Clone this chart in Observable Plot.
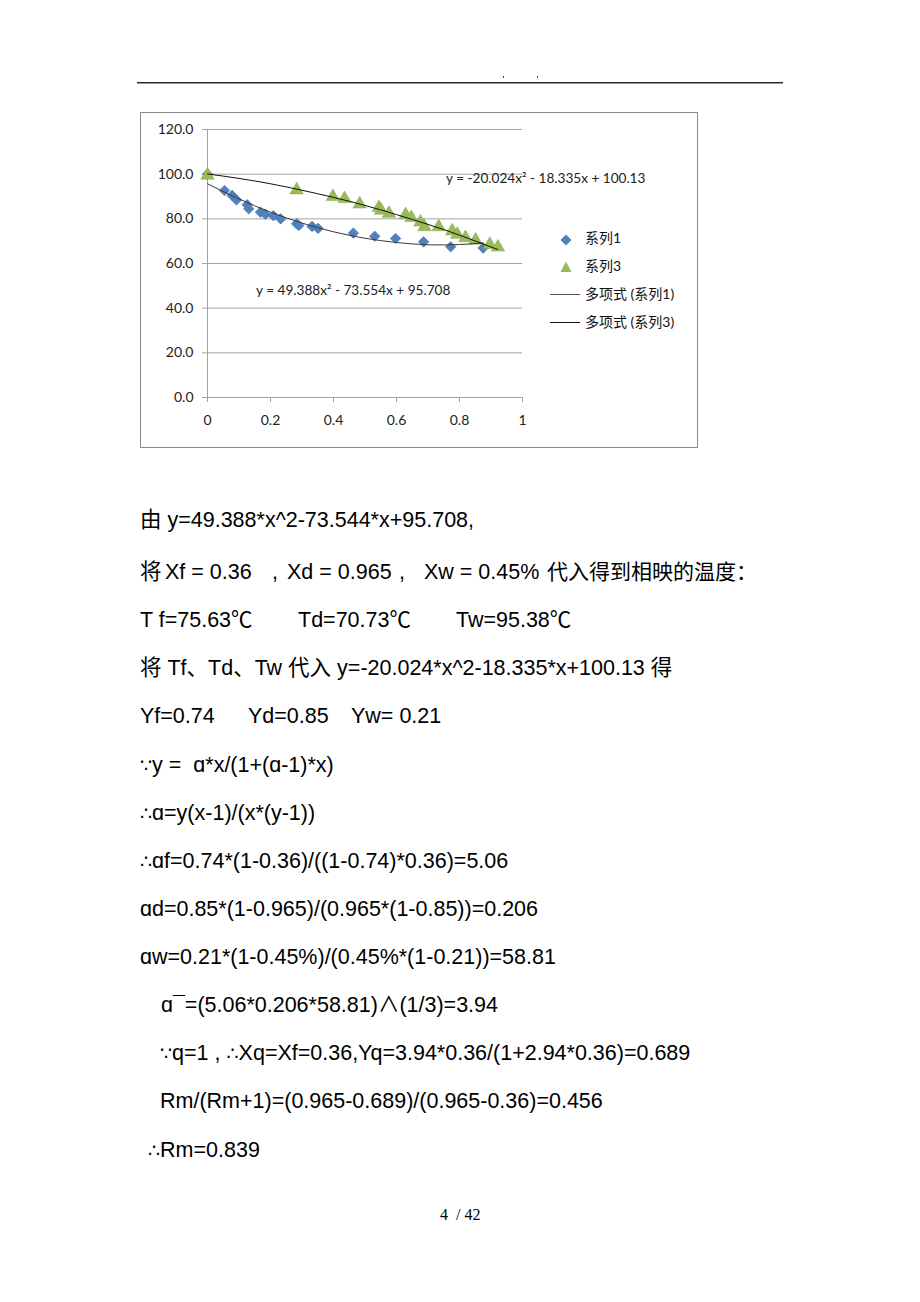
<!DOCTYPE html>
<html><head><meta charset="utf-8">
<script src="https://cdn.jsdelivr.net/npm/d3@7"></script>
<script src="https://cdn.jsdelivr.net/npm/@observablehq/plot@0.6"></script>
<style>
body{margin:0;background:#fff;}
#page{position:relative;width:920px;height:1302px;overflow:hidden;background:#fff;font-family:"Liberation Sans",Arial,"Noto Sans CJK SC",sans-serif;color:#000;}
.ln{position:absolute;font-size:21.5px;white-space:pre;line-height:24px;height:24px;}
.sym{font-family:"DejaVu Sans",sans-serif;font-size:19px;}
.abs{position:absolute;}
.lg{position:absolute;font-family:Lato,"Noto Sans CJK SC",sans-serif;font-size:14px;line-height:18px;white-space:pre;color:#111;}
.eq{position:absolute;font-family:Lato,"Open Sans",sans-serif;font-size:13.6px;line-height:16px;white-space:pre;color:#222;}
</style></head>
<body><div id="page"></div>
<script>
// ---- data ----
const s1X = [0, 0.054, 0.078, 0.092, 0.126, 0.131, 0.168, 0.184, 0.209, 0.232, 0.283, 0.290, 0.332, 0.351, 0.463, 0.531, 0.597, 0.686, 0.772, 0.875];
const s1Y = [100.0, 92.7, 90.5, 88.5, 86.3, 84.5, 83.0, 82.0, 81.4, 80.0, 77.8, 77.0, 76.6, 75.7, 73.6, 72.2, 71.2, 69.7, 67.5, 66.9];
const s3X = [0, 0.283, 0.398, 0.435, 0.483, 0.544, 0.551, 0.576, 0.629, 0.647, 0.676, 0.689, 0.734, 0.777, 0.793, 0.819, 0.851, 0.896, 0.922];
const s3Y = [99.5, 92.9, 89.9, 89.0, 86.6, 85.0, 83.8, 82.4, 81.8, 80.5, 78.5, 76.4, 76.4, 74.5, 73.0, 71.5, 70.4, 68.5, 67.3];
// trendline points
const t1X = [0, 0.1, 0.2, 0.3, 0.4, 0.5, 0.6, 0.7, 0.8, 0.875];
const t1Y = [95.7, 88.9, 83.0, 78.1, 74.2, 71.3, 69.4, 68.4, 68.5, 69.2];
const t3X = [0, 0.1, 0.2, 0.3, 0.4, 0.5, 0.6, 0.7, 0.8, 0.9, 0.922];
const t3Y = [100.1, 98.1, 95.7, 92.8, 89.6, 86.0, 81.9, 77.5, 72.7, 67.4, 66.3];
const xTicks = [0, 0.2, 0.4, 0.6, 0.8, 1];
const xTickLabels = ["0", "0.2", "0.4", "0.6", "0.8", "1"];
const yTicks = [0, 20, 40, 60, 80, 100, 120];
const seriesNames = ["系列1", "系列3", "多项式 (系列1)", "多项式 (系列3)"];
const eq1 = "y = 49.388x² - 73.554x + 95.708";
const eq3 = "y = -20.024x² - 18.335x + 100.13";

const s1 = s1X.map((x, i) => ({x, y: s1Y[i]}));
const s3 = s3X.map((x, i) => ({x, y: s3Y[i]}));
const t1 = t1X.map((x, i) => ({x, y: t1Y[i]}));
const t3 = t3X.map((x, i) => ({x, y: t3Y[i]}));

const page = document.getElementById("page");
function add(html, cls, left, top, extra) {
  const d = document.createElement("div");
  d.className = cls;
  d.style.left = left + "px";
  d.style.top = top + "px";
  if (extra) Object.assign(d.style, extra);
  d.innerHTML = html;
  page.appendChild(d);
  return d;
}

// header rule and dots
add("", "abs", 137, 82, {width: "646px", height: "1px", background: "#222"});
add("", "abs", 137, 83, {width: "646px", height: "1px", background: "#9a9a9a"});
add("", "abs", 503, 76, {width: "1px", height: "2px", background: "#444"});
add("", "abs", 537, 76, {width: "1px", height: "2px", background: "#444"});

// chart
const GRID = "#a3a3a3";
const chart = Plot.plot({
  width: 557, height: 335,
  marginLeft: 67, marginRight: 175, marginTop: 17, marginBottom: 50,
  style: {fontFamily: "Lato, 'Open Sans', sans-serif", fontSize: "14px", color: "#222", background: "transparent", overflow: "visible"},
  x: {domain: [0, 1]},
  y: {domain: [0, 120]},
  marks: [
    Plot.gridY(yTicks, {stroke: GRID, strokeOpacity: 1}),
    Plot.ruleX([0], {stroke: GRID}),
    Plot.ruleY([0], {stroke: GRID}),
    Plot.axisX(xTicks, {tickSize: 5, tickPadding: 13, stroke: GRID, tickFormat: d => xTickLabels[xTicks.indexOf(d)], label: null}),
    Plot.axisY(yTicks, {tickSize: 5, tickPadding: 9, stroke: GRID, tickFormat: d => d.toFixed(1), label: null}),
    Plot.dot(s1, {x: "x", y: "y", symbol: "diamond2", r: 4.8, fill: "#4F81BD", stroke: "#3f6fa8", strokeWidth: 0.5}),
    Plot.dot(s3, {x: "x", y: "y", symbol: "triangle", r: 5, fill: "#9BBB59", stroke: "#86a548", strokeWidth: 0.5}),
    Plot.line(t1, {x: "x", y: "y", stroke: "#3a3a3a", strokeWidth: 1, curve: "natural"}),
    Plot.line(t3, {x: "x", y: "y", stroke: "#111", strokeWidth: 1, curve: "natural"})
  ]
});
const holder = add("", "abs", 140, 112);
holder.appendChild(chart);
add("", "abs", 140, 112, {width: "556px", height: "334px", border: "1px solid #8a8a8a", boxSizing: "content-box", pointerEvents: "none"});

// equations
add(eq3, "eq", 446, 170);
add(eq1, "eq", 256, 282);

// legend
const svgDiamond = '<svg width="12" height="12"><path d="M6 0.5L11.5 6L6 11.5L0.5 6Z" fill="#4F81BD"/></svg>';
const svgTri = '<svg width="12" height="12"><path d="M6 0.5L11.5 11L0.5 11Z" fill="#9BBB59"/></svg>';
add(svgDiamond, "abs", 560, 232);
add(svgTri, "abs", 560, 259);
add("", "abs", 550, 294, {width: "30px", height: "1px", background: "#555"});
add("", "abs", 550, 322, {width: "30px", height: "1px", background: "#111"});
add(seriesNames[0], "lg", 585, 229);
add(seriesNames[1], "lg", 585, 257);
add(seriesNames[2], "lg", 585, 285);
add(seriesNames[3], "lg", 585, 313);

// body text
const lines = [
  [508, [[140, "由 y=49.388*x^2-73.544*x+95.708,"]]],
  [560, [[140, "将"], [165, "Xf = 0.36"], [272, ","], [287, "Xd = 0.965"], [399, ","], [424, "Xw = 0.45%"], [547, "代入得到相映的温度：", "21px"]]],
  [608, [[140, "T f=75.63℃"], [298, "Td=70.73℃"], [456, "Tw=95.38℃"]]],
  [656, [[140, "将 Tf、Td、Tw 代入 y=-20.024*x^2-18.335*x+100.13 得"]]],
  [704, [[140, "Yf=0.74"], [248, "Yd=0.85"], [351, "Yw= 0.21"]]],
  [753, [[140, "∵y =  ɑ*x/(1+(ɑ-1)*x)"]]],
  [801, [[140, "∴ɑ=y(x-1)/(x*(y-1))"]]],
  [849, [[140, "∴ɑf=0.74*(1-0.36)/((1-0.74)*0.36)=5.06"]]],
  [897, [[140, "ɑd=0.85*(1-0.965)/(0.965*(1-0.85))=0.206"]]],
  [945, [[140, "ɑw=0.21*(1-0.45%)/(0.45%*(1-0.21))=58.81"]]],
  [993, [[161, "ɑ¯=(5.06*0.206*58.81)∧(1/3)=3.94"]]],
  [1041, [[160, "∵q=1 , ∴Xq=Xf=0.36,Yq=3.94*0.36/(1+2.94*0.36)=0.689"]]],
  [1089, [[160, "Rm/(Rm+1)=(0.965-0.689)/(0.965-0.36)=0.456"]]],
  [1138, [[148, "∴Rm=0.839"]]]
];
for (const [top, segs] of lines) {
  for (const [left, txt, fs] of segs) {
    const d = add("", "ln", left, top);
    if (fs) d.style.fontSize = fs;
    for (const part of txt.split(/([∵∴])/)) {
      if (!part) continue;
      if (part === "∵" || part === "∴") {
        const sp = document.createElement("span");
        sp.className = "sym";
        sp.textContent = part;
        d.appendChild(sp);
      } else {
        d.appendChild(document.createTextNode(part));
      }
    }
  }
}

// page number
const pn = add("", "abs", 440, 1205, {fontFamily: "'Liberation Serif','Times New Roman',serif", fontSize: "16px", lineHeight: "20px", whiteSpace: "pre"});
pn.textContent = "4  / 42";
</script>
</body></html>
